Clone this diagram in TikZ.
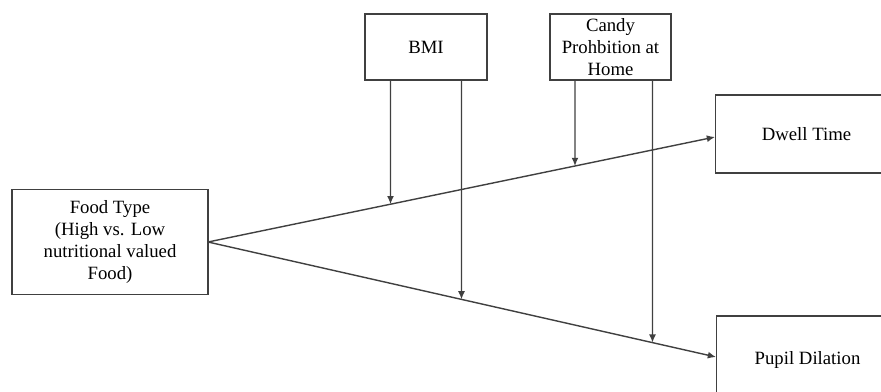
\documentclass[tikz,border=0pt]{standalone}
\usepackage{fontspec}
\setmainfont{Liberation Serif}
\usetikzlibrary{arrows.meta}
\tikzset{
  varbox/.style={draw=black!75,line width=0.9pt,fill=white,align=center,inner sep=2pt,
    font=\fontsize{16}{18.8}\selectfont},
  link/.style={draw=black!75,line width=1.2pt,-{Latex[length=7pt,width=6pt]}}
}
\begin{document}
\begin{tikzpicture}[x=0.03cm,y=-0.03cm]
  \useasboundingbox (0,0) rectangle (881,391);
  \clip (0,0) rectangle (881,391);
  % predictor and moderators
  \node[varbox,minimum width=5.88cm,minimum height=3.15cm] (food) at (110,242) {Food Type\\(High vs. Low\\nutritional valued\\Food)};
  \node[varbox,minimum width=3.66cm,minimum height=1.98cm] (bmi) at (426,47) {BMI};
  \node[varbox,minimum width=3.63cm,minimum height=1.98cm] (candy) at (610.5,47) {Candy\\Prohbition at\\Home};
  % outcomes (cut at the edge)
  \node[varbox,minimum width=5.46cm,minimum height=2.34cm,anchor=west] (dwell) at (715,134) {Dwell Time};
  \node[varbox,minimum width=5.46cm,minimum height=2.64cm,anchor=west] (pupil) at (716,360) {Pupil Dilation};
  % main paths
  \coordinate (src) at (208,242);
  \coordinate (dwin) at (715,137);
  \coordinate (puin) at (716,357);
  \draw[link] (src) -- (dwin);
  \draw[link] (src) -- (puin);
  % moderating arrows
  \coordinate (b1) at (390.5,80);
  \coordinate (b2) at (461.5,80);
  \coordinate (c1) at (575,80);
  \coordinate (c2) at (652.5,80);
  \draw[link] (b1) -- (intersection of src--dwin and b1--390.5,300);
  \draw[link] (b2) -- (intersection of src--puin and b2--461.5,300);
  \draw[link] (c1) -- (intersection of src--dwin and c1--575,300);
  \draw[link] (c2) -- (intersection of src--puin and c2--652.5,300);
\end{tikzpicture}
\end{document}
